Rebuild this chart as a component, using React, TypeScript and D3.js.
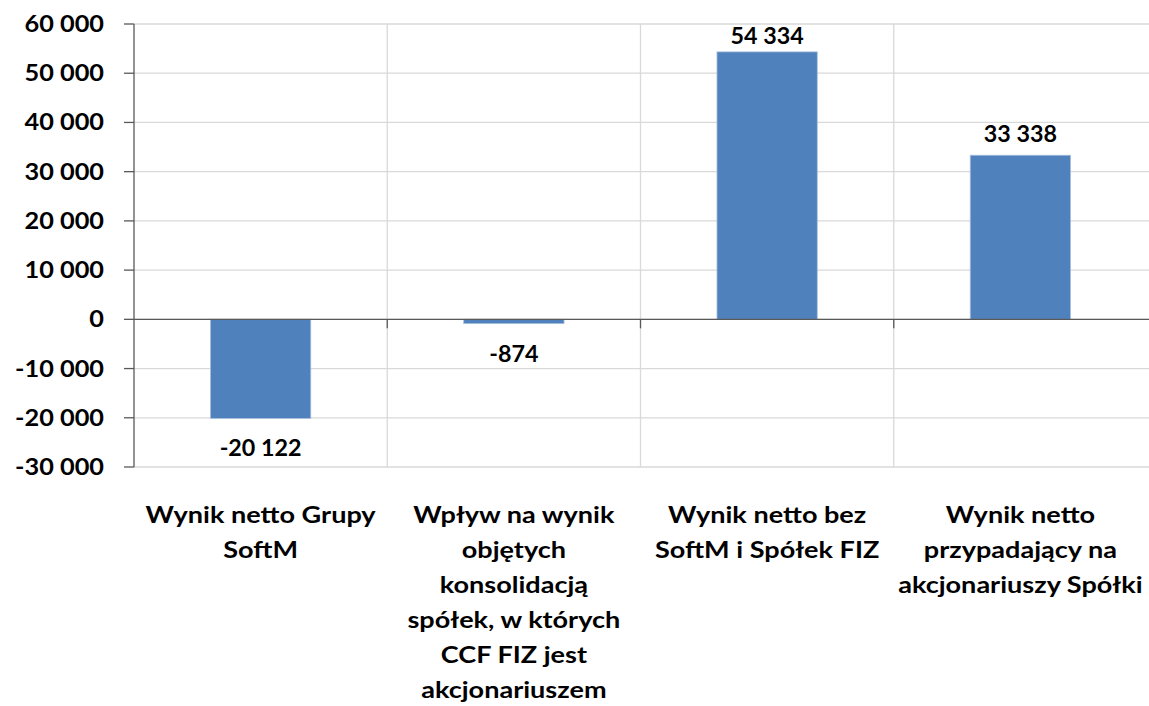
import React from 'react';
import * as d3 from 'd3';

// categories (wrapped the way they appear under the axis)
const categories = [
    ['Wynik netto Grupy', 'SoftM'],
    ['Wpływ na wynik', 'objętych', 'konsolidacją', 'spółek, w których', 'CCF FIZ jest', 'akcjonariuszem'],
    ['Wynik netto bez', 'SoftM i Spółek FIZ'],
    ['Wynik netto', 'przypadający na', 'akcjonariuszy Spółki'],
];
const values = [-20122, -874, 54334, 33338];
const yTicks = [-30000, -20000, -10000, 0, 10000, 20000, 30000, 40000, 50000, 60000];

const width = 1149, height = 706;
const margin = {top: 24, right: 2, bottom: 239, left: 134};
const font = 'Lato, "Open Sans", sans-serif';

const fmt = (v: number) => {
    const s = Math.abs(v).toString().replace(/\B(?=(\d{3})+(?!\d))/g, ' ');
    return (v < 0 ? '-' : '') + s;
};

// source picture is stretched sideways, so text gets a horizontal scale
function Label({x, y, text, size, sx, anchor = 'middle'}: {x: number, y: number, text: string, size: number, sx: number, anchor?: string}) {
    return (
        <text transform={`translate(${x},${y}) scale(${sx},1)`} textAnchor={anchor}
              fontFamily={font} fontWeight={700} fontSize={size} fill="#000">{text}</text>
    );
}

export default function App() {
    const x = d3.scaleBand<number>()
        .domain(d3.range(categories.length))
        .range([margin.left, width - margin.right])
        .paddingInner(0).paddingOuter(0);
    const y = d3.scaleLinear()
        .domain([-30000, 60000])
        .range([height - margin.bottom, margin.top]);

    const barW = x.bandwidth() * 0.396;
    const bounds = d3.range(categories.length + 1).map(i => margin.left + i * x.bandwidth());
    const left = margin.left;

    return (
        <div style={{position: 'absolute', left: 0, top: 0, width, height, background: '#fff'}}>
            <svg width={width} height={height} style={{display: 'block'}}>
                {/* horizontal grid */}
                {yTicks.map(t => (
                    <line key={'g' + t} x1={left} x2={width} y1={y(t)} y2={y(t)}
                          stroke="#d9d9d9" strokeWidth={1.3}/>
                ))}
                {/* vertical grid at category boundaries */}
                {bounds.slice(1, -1).map((b, i) => (
                    <line key={'v' + i} x1={b} x2={b} y1={y(60000)} y2={y(-30000)}
                          stroke="#d9d9d9" strokeWidth={1.3}/>
                ))}
                {/* bars */}
                {values.map((v, i) => (
                    <rect key={'b' + i}
                          x={x(i)! + x.bandwidth() / 2 - barW / 2}
                          y={Math.min(y(v), y(0))}
                          width={barW}
                          height={Math.abs(y(v) - y(0))}
                          fill="#4f81bd" stroke="#a7bfde" strokeWidth={0.8}/>
                ))}
                {/* zero axis line with ticks */}
                <line x1={left} x2={width} y1={y(0)} y2={y(0)} stroke="#595959" strokeWidth={1.3}/>
                {bounds.slice(1, -1).map((b, i) => (
                    <line key={'zt' + i} x1={b} x2={b} y1={y(0)} y2={y(0) + 9} stroke="#595959" strokeWidth={1.3}/>
                ))}
                {/* y axis */}
                <line x1={left} x2={left} y1={y(60000)} y2={y(-30000)} stroke="#595959" strokeWidth={1.3}/>
                {yTicks.map(t => (
                    <g key={'t' + t}>
                        <line x1={left - 10} x2={left} y1={y(t)} y2={y(t)} stroke="#595959" strokeWidth={1.3}/>
                        <Label x={left - 30} y={y(t) + 8} text={fmt(t)} size={22} sx={1.15} anchor="end"/>
                    </g>
                ))}
                {/* data labels */}
                {values.map((v, i) => {
                    const cx = x(i)! + x.bandwidth() / 2;
                    const ly = v >= 0 ? Math.max(y(v) - 13, y(60000) + 20) : y(v) + 38;
                    return <Label key={'d' + i} x={cx} y={ly} text={fmt(v)} size={22} sx={1.06}/>;
                })}
                {/* category labels */}
                {categories.map((lines, i) => (
                    <g key={'c' + i}>
                        {lines.map((l, j) => (
                            <Label key={j} x={x(i)! + x.bandwidth() / 2} y={523 + j * 35} text={l} size={22} sx={1.23}/>
                        ))}
                    </g>
                ))}
            </svg>
        </div>
    );
}
